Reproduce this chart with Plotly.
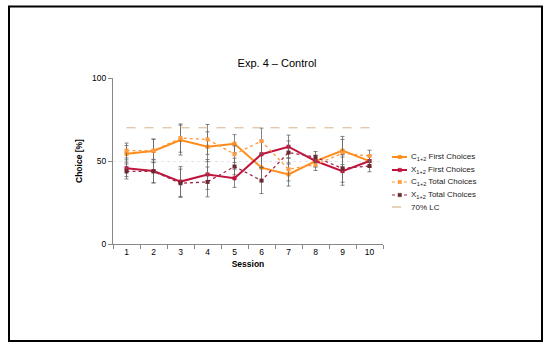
import plotly.graph_objects as go

sessions = [1, 2, 3, 4, 5, 6, 7, 8, 9, 10]
c_first = [54.3, 56.0, 62.6, 58.6, 60.4, 46.0, 41.9, 49.9, 56.3, 49.9]
x_first = [45.7, 44.0, 37.6, 41.9, 39.6, 54.1, 58.6, 50.0, 43.9, 50.0]
c_total = [56.3, 56.3, 63.8, 63.0, 54.1, 62.0, 45.0, 47.7, 54.7, 53.0]
x_total = [43.7, 43.7, 36.6, 37.4, 46.7, 38.2, 55.1, 52.3, 45.5, 47.0]
err_first = [5.0, 7.0, 9.0, 9.0, 5.5, 8.0, 7.0, 3.5, 8.5, 3.5]
err_total = [4.5, 7.0, 8.5, 9.0, 5.0, 7.8, 7.0, 3.4, 8.3, 3.5]
lc_level = 70

W, H = 550, 345
L, R, T, B = 113, 167, 78, 101
pw, ph = W - L - R, H - T - B

def px(x):
    return (x - L) / pw

def py(y):
    return (H - B - y) / ph

fig = go.Figure()

def err(vals):
    return dict(type="data", array=vals, visible=True, color="#666666",
                thickness=0.8, width=2)

series = [
    ("C<sub>1+2</sub> First Choices", c_first, err_first, "#FF8C1A", 2, "solid", "#FF8C1A"),
    ("X<sub>1+2</sub> First Choices", x_first, err_first, "#C0143C", 2, "solid", "#C0143C"),
    ("C<sub>1+2</sub> Total Choices", c_total, err_total, "#FF9A40", 1.3, "dot", "#FF9A40"),
    ("X<sub>1+2</sub> Total Choices", x_total, err_total, "#A0284A", 1.3, "dot", "#6B2A30"),
]

for name, vals, e, col, lw, dash, mcol in series:
    fig.add_trace(go.Scatter(
        x=sessions, y=vals, name=name, mode="lines+markers",
        line=dict(color=col, width=lw, dash=dash),
        marker=dict(size=4, color=mcol, symbol="square"),
        error_y=err(e)))

fig.add_trace(go.Scatter(
    x=[sessions[0], sessions[-1]], y=[lc_level, lc_level], name="70% LC", mode="lines",
    line=dict(color="#D9B38C", width=1, dash="dash")))

# outer frame
fig.add_shape(type="rect", xref="paper", yref="paper",
              x0=px(9), x1=px(542), y0=py(341), y1=py(6.5),
              line=dict(color="black", width=2), fillcolor="rgba(0,0,0,0)", layer="below")

# manual compact legend
legend_rows = [157, 170, 182, 195, 207]
legend_items = series + [("70% LC", None, None, "#D9B38C", 1, "dash", None)]
for (name, _, _, col, lw, dash, mcol), yy in zip(legend_items, legend_rows):
    fig.add_shape(type="line", xref="paper", yref="paper",
                  x0=px(392), x1=px(407), y0=py(yy), y1=py(yy),
                  line=dict(color=col, width=lw if lw > 1.5 else 1.2, dash=dash))
    if mcol is not None:
        fig.add_shape(type="rect", xref="paper", yref="paper",
                      x0=px(398), x1=px(401.5), y0=py(yy + 1.7), y1=py(yy - 1.7),
                      line=dict(color=mcol, width=0.5), fillcolor=mcol)
    fig.add_annotation(xref="paper", yref="paper", x=px(408.5), y=py(yy),
                       xanchor="left", yanchor="middle", showarrow=False,
                       text=name, font=dict(size=8, color="#222222"))

fig.update_layout(
    width=W, height=H,
    margin=dict(l=L, r=R, t=T, b=B, autoexpand=False),
    paper_bgcolor="white", plot_bgcolor="white",
    font=dict(family="Liberation Sans, Arial, sans-serif", size=8, color="black"),
    title=dict(text="Exp. 4 \u2013 Control", x=277 / W, xanchor="center",
               y=1 - 63 / H, yanchor="middle", font=dict(size=11, color="black")),
    showlegend=False,
    xaxis=dict(range=[0.5, 10.5], tickmode="array", tickvals=sessions,
               ticks="", showgrid=False, zeroline=False,
               showline=True, linecolor="#888888", linewidth=1,
               title=dict(text="<b>Session</b>", font=dict(size=8.5), standoff=4),
               tickfont=dict(size=8.5)),
    yaxis=dict(range=[0, 100], tickvals=[0, 50, 100], ticks="outside", ticklen=4,
               tickcolor="#888888", showgrid=True, gridcolor="#E6E6E6", griddash="dot",
               zeroline=False, showline=True, linecolor="#888888", linewidth=1,
               title=dict(text="<b>Choice [%]</b>", font=dict(size=8.5), standoff=8),
               tickfont=dict(size=8.5)),
)

fig.update_xaxes(minor=dict(tickvals=[s + 0.5 for s in [0] + sessions], ticks="outside",
                            ticklen=4, tickcolor="#888888"))

fig.write_html("out.html", config={"displayModeBar": False},
               post_script="document.body.style.margin='0px';")
